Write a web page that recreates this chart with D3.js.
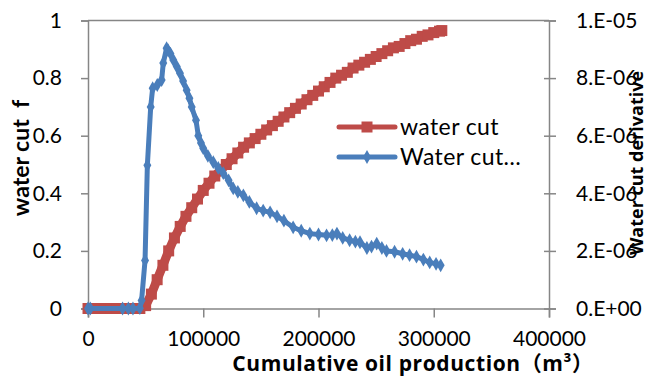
<!DOCTYPE html>
<html>
<head>
<meta charset="utf-8">
<script src="https://cdn.jsdelivr.net/npm/d3@7"></script>
<style>
  body { margin: 0; background: #fff; }
  svg { display: block; }
  text { font-family: Lato, "Noto Sans CJK SC", sans-serif; fill: #000; }
</style>
</head>
<body>
<svg id="chart" width="648" height="376"></svg>
<script>

// water cut (left axis)
var cutCum = [
  0, 5000, 10000, 15000, 20000, 25000, 30000, 35000, 40000, 45000,
  50000, 55000, 60000, 65000, 70000, 75000, 80000, 85000, 90000, 95000,
  100000, 105000, 110000, 115000, 120000, 125000, 130000, 135000, 140000, 145000,
  150000, 155000, 160000, 165000, 170000, 175000, 180000, 185000, 190000, 195000,
  200000, 205000, 210000, 215000, 220000, 225000, 230000, 235000, 240000, 245000,
  250000, 255000, 260000, 265000, 270000, 275000, 280000, 285000, 290000, 295000,
  300000, 305000, 307000
];
var waterCut = [
  0, 0, 0, 0, 0, 0, 0, 0, 0, 0,
  0.01, 0.05, 0.10, 0.15, 0.20, 0.245, 0.285, 0.32, 0.35, 0.38,
  0.41, 0.435, 0.46, 0.48, 0.50, 0.52, 0.54, 0.56, 0.575, 0.59,
  0.605, 0.62, 0.635, 0.65, 0.665, 0.68, 0.695, 0.71, 0.725, 0.74,
  0.755, 0.77, 0.785, 0.80, 0.81, 0.82, 0.835, 0.845, 0.855, 0.865,
  0.875, 0.885, 0.895, 0.905, 0.91, 0.92, 0.93, 0.935, 0.945, 0.95,
  0.958, 0.963, 0.965
];

// water cut derivative (right axis)
var derivCum = [
  0, 2000, 30000, 35000, 39000, 45000, 46500, 49500, 51500, 54400,
  56100, 60100, 63900, 65300, 68200, 69400, 71500, 74000, 77000, 79800,
  82500, 85600, 88000, 90000, 93700, 95700, 98000, 100000, 104000, 108700,
  113000, 117400, 122000, 126000, 130000, 134800, 140000, 146300, 152000, 158000,
  164000, 170000, 178000, 185000, 192500, 200000, 207000, 212000, 216000, 221000,
  227000, 232000, 236000, 242000, 246000, 250500, 255000, 259000, 266000, 273000,
  279000, 285000, 291000, 296500, 302000, 306000
];
var waterCutDeriv = [
  0, 0, 0, 0, 0, 0.01e-6, 0.28e-6, 1.67e-6, 4.97e-6, 7.0e-6,
  7.65e-6, 7.76e-6, 7.93e-6, 8.52e-6, 9.04e-6, 8.97e-6, 8.85e-6, 8.63e-6, 8.4e-6, 8.17e-6,
  7.9e-6, 7.58e-6, 7.3e-6, 7.0e-6, 6.54e-6, 6.0e-6, 5.75e-6, 5.56e-6, 5.3e-6, 5.08e-6,
  4.88e-6, 4.7e-6, 4.45e-6, 4.17e-6, 4.05e-6, 3.93e-6, 3.7e-6, 3.48e-6, 3.4e-6, 3.34e-6,
  3.2e-6, 3.05e-6, 2.82e-6, 2.7e-6, 2.6e-6, 2.57e-6, 2.54e-6, 2.55e-6, 2.6e-6, 2.45e-6,
  2.37e-6, 2.32e-6, 2.3e-6, 2.1e-6, 2.15e-6, 2.25e-6, 2.1e-6, 2.0e-6, 1.97e-6, 1.9e-6,
  1.85e-6, 1.8e-6, 1.7e-6, 1.6e-6, 1.55e-6, 1.5e-6
];

var xTicks = [0, 100000, 200000, 300000, 400000];
var leftTicks = [0, 0.2, 0.4, 0.6, 0.8, 1];
var rightTicks = [0, 2e-6, 4e-6, 6e-6, 8e-6, 1e-5];
var seriesNames = ["water cut", "Water cut\u2026"];

var RED = "#be4b48";
var BLUE = "#4a7ebb";
var AXIS = "#868686";

var svg = d3.select("#chart");

// plot area
var L = 88, R = 549, T = 20.5, B = 308.5;

var x = d3.scaleLinear().domain([0, 400000]).range([L, R]);
var yL = d3.scaleLinear().domain([0, 1]).range([B, T]);
var yR = d3.scaleLinear().domain([0, 1e-5]).range([B, T]);

// excel style "8.E-06"
function sciFormat(d) {
  if (d === 0) return "0.E+00";
  var e = Math.floor(Math.log10(d) + 1e-9);
  var m = Math.round(d / Math.pow(10, e));
  var s = e < 0 ? "-" : "+";
  var a = Math.abs(e);
  return m + ".E" + s + (a < 10 ? "0" + a : a);
}

// border top
svg.append("line")
  .attr("x1", L).attr("x2", R).attr("y1", T).attr("y2", T)
  .attr("stroke", AXIS).attr("stroke-width", 1.5);

// left axis
var gL = svg.append("g").attr("transform", "translate(" + L + ",0)")
  .call(d3.axisLeft(yL).tickValues(leftTicks).tickFormat(d3.format("~g")).tickSize(7).tickPadding(19));

// right axis
var gR = svg.append("g").attr("transform", "translate(" + R + ",0)")
  .call(d3.axisRight(yR).tickValues(rightTicks).tickFormat(sciFormat).tickSize(7).tickPadding(20));
gR.selectAll(".tick line").attr("x1", -5);

// bottom axis
var gB = svg.append("g").attr("transform", "translate(0," + B + ")")
  .call(d3.axisBottom(x).tickValues(xTicks).tickFormat(d3.format("d")).tickSize(9).tickPadding(14));

[gL, gR, gB].forEach(function(g) {
  g.select(".domain").attr("stroke", AXIS).attr("stroke-width", 1.5);
  g.selectAll(".tick line").attr("stroke", AXIS).attr("stroke-width", 1.5);
  g.selectAll(".tick text").style("font-size", "21px").attr("fill", "#000");
});
gR.selectAll(".tick text").attr("text-anchor", "start");

// water cut series
var redPts = cutCum.map(function(c, i) { return [c, waterCut[i]]; });
svg.append("path")
  .datum(redPts)
  .attr("fill", "none")
  .attr("stroke", RED)
  .attr("stroke-width", 9)
  .attr("stroke-linejoin", "round")
  .attr("d", d3.line().x(function(d) { return x(d[0]); }).y(function(d) { return yL(d[1]); }));

svg.append("g").selectAll("path")
  .data(redPts)
  .enter().append("path")
  .attr("transform", function(d) { return "translate(" + x(d[0]) + "," + yL(d[1]) + ")"; })
  .attr("d", d3.symbol(d3.symbolSquare, 121))
  .attr("fill", RED);

// derivative series
var bluePts = derivCum.map(function(c, i) { return [c, waterCutDeriv[i]]; });
svg.append("path")
  .datum(bluePts)
  .attr("fill", "none")
  .attr("stroke", BLUE)
  .attr("stroke-width", 5)
  .attr("stroke-linejoin", "round")
  .attr("d", d3.line().x(function(d) { return x(d[0]); }).y(function(d) { return yR(d[1]); }));

svg.append("g").selectAll("path")
  .data(bluePts)
  .enter().append("path")
  .attr("transform", function(d) { return "translate(" + x(d[0]) + "," + yR(d[1]) + ")"; })
  .attr("d", d3.symbol(d3.symbolDiamond, 55))
  .attr("fill", BLUE);

// legend
var legend = svg.append("g").attr("transform", "translate(339,127)");
var leg = legend.selectAll("g").data(seriesNames).enter().append("g")
  .attr("transform", function(d, i) { return "translate(0," + (i * 30) + ")"; });
leg.append("line")
  .attr("x1", 0).attr("x2", 56)
  .attr("stroke", function(d, i) { return i === 0 ? RED : BLUE; })
  .attr("stroke-width", 5)
  .attr("stroke-linecap", "round");
leg.append("path")
  .attr("transform", "translate(28,0)")
  .attr("d", function(d, i) { return i === 0 ? d3.symbol(d3.symbolSquare, 121)() : d3.symbol(d3.symbolDiamond, 55)(); })
  .attr("fill", function(d, i) { return i === 0 ? RED : BLUE; });
leg.append("text")
  .attr("x", 61).attr("y", 8)
  .style("font-size", "23px")
  .style("letter-spacing", "0.4px")
  .text(function(d) { return d; });

// axis titles
svg.append("text")
  .attr("transform", "translate(29,158) rotate(-90)")
  .attr("text-anchor", "middle")
  .style("font-size", "23px").style("font-weight", "bold")
  .style("white-space", "pre")
  .text("water cut  f");

svg.append("text")
  .attr("transform", "translate(643,163) rotate(-90)")
  .attr("text-anchor", "middle")
  .style("font-family", "'Open Sans', sans-serif")
  .style("font-size", "18px").style("font-weight", "bold")
  .text("Water cut derivative");

svg.append("text")
  .attr("x", 413).attr("y", 371)
  .attr("text-anchor", "middle")
  .style("font-family", "'Open Sans', 'Noto Sans CJK SC', sans-serif")
  .style("font-size", "21px").style("font-weight", "bold")
  .style("letter-spacing", "0.6px")
  .text("Cumulative oil production\uff08m\u00b3\uff09");

</script>
</body>
</html>
